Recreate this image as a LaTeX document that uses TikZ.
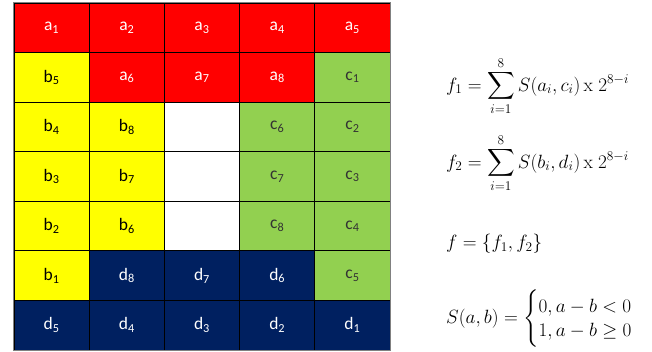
\documentclass[tikz,border=0pt]{standalone}
\usepackage{amsmath,amssymb}
\usepackage{fontspec}
\setmainfont{Carlito}
\newfontfamily\lmr{Latin Modern Roman}
\definecolor{cred}{HTML}{FF0000}
\definecolor{cyel}{HTML}{FFFF00}
\definecolor{cgrn}{HTML}{92D050}
\definecolor{cnav}{HTML}{002060}
\newcommand{\eqbox}[1]{\scalebox{1.11}{#1}}
\begin{document}
\begin{tikzpicture}[x=1pt,y=-1pt,
  cell/.style={draw=black,line width=0.8pt,minimum width=75.2pt,minimum height=49.57pt,inner sep=0pt,font=\fontsize{17.5}{20}\selectfont},
  rc/.style={cell,fill=cred,text=white},
  yc/.style={cell,fill=cyel,text=black},
  gc/.style={cell,fill=cgrn,text=black!80},
  nc/.style={cell,fill=cnav,text=white},
  wc/.style={cell,fill=white},
  eq/.style={anchor=west,inner sep=0pt,font=\fontsize{17.28}{21}\selectfont}]
\useasboundingbox (0,0) rectangle (652,352);
\def\cw{75.2}\def\rh{49.57}
% row 1
\node[rc] (a1) at ({14+\cw*0.5},{3+\rh*0.5}) {a\textsubscript{1}};
\node[rc] (a2) at ({14+\cw*1.5},{3+\rh*0.5}) {a\textsubscript{2}};
\node[rc] (a3) at ({14+\cw*2.5},{3+\rh*0.5}) {a\textsubscript{3}};
\node[rc] (a4) at ({14+\cw*3.5},{3+\rh*0.5}) {a\textsubscript{4}};
\node[rc] (a5) at ({14+\cw*4.5},{3+\rh*0.5}) {a\textsubscript{5}};
% row 2
\node[yc] (b5) at ({14+\cw*0.5},{3+\rh*1.5}) {b\textsubscript{5}};
\node[rc] (a6) at ({14+\cw*1.5},{3+\rh*1.5}) {a\textsubscript{6}};
\node[rc] (a7) at ({14+\cw*2.5},{3+\rh*1.5}) {a\textsubscript{7}};
\node[rc] (a8) at ({14+\cw*3.5},{3+\rh*1.5}) {a\textsubscript{8}};
\node[gc] (c1) at ({14+\cw*4.5},{3+\rh*1.5}) {c\textsubscript{1}};
% row 3
\node[yc] (b4) at ({14+\cw*0.5},{3+\rh*2.5}) {b\textsubscript{4}};
\node[yc] (b8) at ({14+\cw*1.5},{3+\rh*2.5}) {b\textsubscript{8}};
\node[wc] (w1) at ({14+\cw*2.5},{3+\rh*2.5}) {};
\node[gc] (c6) at ({14+\cw*3.5},{3+\rh*2.5}) {c\textsubscript{6}};
\node[gc] (c2) at ({14+\cw*4.5},{3+\rh*2.5}) {c\textsubscript{2}};
% row 4
\node[yc] (b3) at ({14+\cw*0.5},{3+\rh*3.5}) {b\textsubscript{3}};
\node[yc] (b7) at ({14+\cw*1.5},{3+\rh*3.5}) {b\textsubscript{7}};
\node[wc] (w2) at ({14+\cw*2.5},{3+\rh*3.5}) {};
\node[gc] (c7) at ({14+\cw*3.5},{3+\rh*3.5}) {c\textsubscript{7}};
\node[gc] (c3) at ({14+\cw*4.5},{3+\rh*3.5}) {c\textsubscript{3}};
% row 5
\node[yc] (b2) at ({14+\cw*0.5},{3+\rh*4.5}) {b\textsubscript{2}};
\node[yc] (b6) at ({14+\cw*1.5},{3+\rh*4.5}) {b\textsubscript{6}};
\node[wc] (w3) at ({14+\cw*2.5},{3+\rh*4.5}) {};
\node[gc] (c8) at ({14+\cw*3.5},{3+\rh*4.5}) {c\textsubscript{8}};
\node[gc] (c4) at ({14+\cw*4.5},{3+\rh*4.5}) {c\textsubscript{4}};
% row 6
\node[yc] (b1) at ({14+\cw*0.5},{3+\rh*5.5}) {b\textsubscript{1}};
\node[nc] (d8) at ({14+\cw*1.5},{3+\rh*5.5}) {d\textsubscript{8}};
\node[nc] (d7) at ({14+\cw*2.5},{3+\rh*5.5}) {d\textsubscript{7}};
\node[nc] (d6) at ({14+\cw*3.5},{3+\rh*5.5}) {d\textsubscript{6}};
\node[gc] (c5) at ({14+\cw*4.5},{3+\rh*5.5}) {c\textsubscript{5}};
% row 7
\node[nc] (d5) at ({14+\cw*0.5},{3+\rh*6.5}) {d\textsubscript{5}};
\node[nc] (d4) at ({14+\cw*1.5},{3+\rh*6.5}) {d\textsubscript{4}};
\node[nc] (d3) at ({14+\cw*2.5},{3+\rh*6.5}) {d\textsubscript{3}};
\node[nc] (d2) at ({14+\cw*3.5},{3+\rh*6.5}) {d\textsubscript{2}};
\node[nc] (d1) at ({14+\cw*4.5},{3+\rh*6.5}) {d\textsubscript{1}};
\draw[gray,line width=1pt] (a1.north west) rectangle (d1.south east);
% formulas
\node[eq] (f1) at (446,86) {\eqbox{$\displaystyle f_1=\sum_{i=1}^{8}S(a_i,c_i)\,\text{\lmr x}\;2^{8-i}$}};
\node[eq] (f2) at (446,163) {\eqbox{$\displaystyle f_2=\sum_{i=1}^{8}S(b_i,d_i)\,\text{\lmr x}\;2^{8-i}$}};
\node[eq] (f) at (446,244) {\eqbox{$f=\{f_1,f_2\}$}};
\node[eq] (S) at (446,319) {\eqbox{$S(a,b)=\begin{cases}\text{\lmr 0}, a-b<0\\[-4pt]\text{\lmr 1}, a-b\geq 0\end{cases}$}};
\end{tikzpicture}
\end{document}
